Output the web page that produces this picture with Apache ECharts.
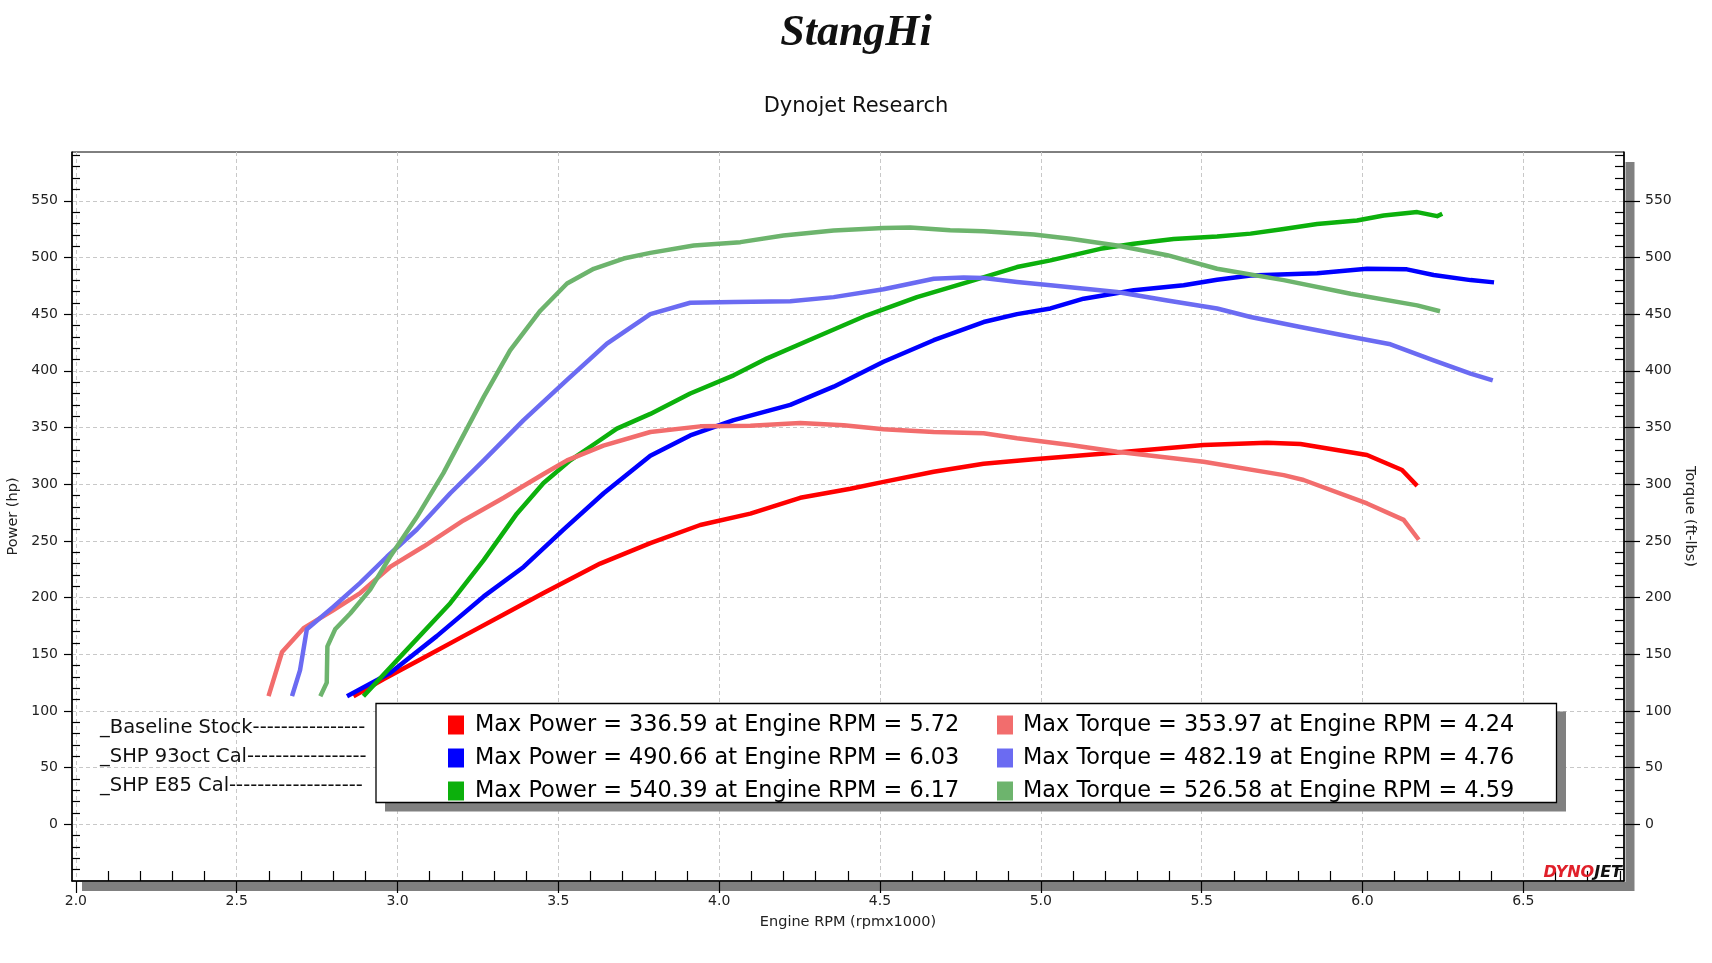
<!DOCTYPE html>
<html>
<head>
<meta charset="utf-8">
<title>Dynojet Research</title>
<script src="https://cdn.jsdelivr.net/npm/echarts@6/dist/echarts.min.js"></script>
<style>
  html, body { margin: 0; padding: 0; background: #fff; }
  #main { width: 1712px; height: 963px; }
</style>
</head>
<body>
<div id="main"></div>
<script>
// runs and the summary numbers printed in the box
var runNames = ['_Baseline Stock', '_SHP 93oct Cal', '_SHP E85 Cal'];
var runDashes = [16, 17, 19];
var maxPower = [336.59, 490.66, 540.39];
var maxPowerRpm = [5.72, 6.03, 6.17];
var maxTorque = [353.97, 482.19, 526.58];
var maxTorqueRpm = [4.24, 4.76, 4.59];

// axis ticks
var rpmTicks = [2.0, 2.5, 3.0, 3.5, 4.0, 4.5, 5.0, 5.5, 6.0, 6.5];
var powerTicks = [0, 50, 100, 150, 200, 250, 300, 350, 400, 450, 500, 550];

// [rpm x1000, hp]
var basePower = [[2.863,113],[2.956,128],[3.081,147],[3.205,166],[3.330,185],[3.454,204],[3.630,230],[3.786,248],[3.941,264],[4.097,274],[4.252,288],[4.408,296],[4.511,302],[4.667,311],[4.822,318],[4.978,322],[5.237,328],[5.506,334.5],[5.703,336.6],[5.807,335.4],[6.014,325.7],[6.123,312.5],[6.170,298.5]];
var shp93Power = [[2.843,113],[2.977,133.5],[3.122,166],[3.268,201],[3.392,227],[3.516,260],[3.641,292],[3.786,325],[3.910,343],[4.045,356.5],[4.221,370],[4.356,386],[4.511,408],[4.667,427],[4.822,443],[4.926,450],[5.030,455],[5.133,463.6],[5.289,471],[5.444,475.4],[5.548,480.4],[5.652,484],[5.859,486],[6.014,490],[6.138,489.5],[6.221,484.5],[6.336,480],[6.409,478]];
var e85Power = [[2.894,113],[3.019,151],[3.164,195],[3.268,233],[3.371,274],[3.454,301],[3.537,321],[3.620,337],[3.682,349],[3.786,362],[3.910,380],[4.045,396],[4.149,411],[4.304,430],[4.459,449],[4.615,465],[4.770,478],[4.926,491.5],[5.030,497.4],[5.185,507.6],[5.289,512],[5.413,516.3],[5.548,518.5],[5.652,521],[5.755,525],[5.859,529.5],[5.983,532.6],[6.066,537],[6.170,540],[6.232,536.4],[6.248,538.5]];
// [rpm x1000, ft-lbs]
var baseTorque = [[2.599,113],[2.641,152],[2.708,173],[2.801,189],[2.884,204],[2.977,227],[3.081,245],[3.205,268],[3.330,288],[3.454,309],[3.527,321],[3.640,334],[3.786,346],[3.941,351],[4.097,351.5],[4.252,354],[4.387,352],[4.511,348.5],[4.667,346],[4.822,345],[4.926,340.5],[5.092,334.5],[5.237,328.6],[5.506,319.8],[5.755,308],[5.817,303.7],[6.014,283],[6.128,268.5],[6.175,251]];
var shp93Torque = [[2.672,113],[2.697,136],[2.718,172],[2.801,192],[2.884,213],[2.967,236],[3.060,260],[3.164,292],[3.268,321],[3.392,356.5],[3.527,392],[3.651,424],[3.786,450],[3.910,460],[4.045,460.7],[4.221,461.3],[4.356,465],[4.511,472],[4.667,481.2],[4.760,482.2],[4.822,481.8],[4.926,478.3],[5.030,475.4],[5.237,469.5],[5.393,462],[5.548,455],[5.652,447.5],[5.807,438.6],[5.963,430],[6.087,423.4],[6.221,409.3],[6.336,397.6],[6.405,391.5]];
var e85Torque = [[2.760,113],[2.780,125],[2.782,157],[2.806,172],[2.853,186],[2.915,207],[2.977,236],[3.060,271],[3.143,310],[3.268,377],[3.350,418],[3.444,453],[3.527,477],[3.610,490],[3.703,499],[3.786,504],[3.921,510.6],[4.066,513.5],[4.200,519.4],[4.356,523.8],[4.511,526],[4.594,526.5],[4.718,524],[4.822,523.2],[4.978,520.2],[5.092,516.4],[5.237,510.6],[5.393,502],[5.548,490],[5.755,480],[5.963,468],[6.170,457.7],[6.241,452.5]];

var powerColors = ['#ff0000', '#0000ff', '#0cb00c'];
var torqueColors = ['#f26d6d', '#6b6bf2', '#6db46d'];

var FONT = '"DejaVu Sans", Tahoma, sans-serif';

// minor tick positions
var rpmMinor = [];
for (var i = 20; i <= 68; i++) { if (i % 5) rpmMinor.push(i / 10); }
var powerMinor = [];
for (var j = -40; j <= 590; j += 10) { if (j % 50) powerMinor.push(j); }

var powerNames = runNames.map(function (n) { return n + ' Power'; });
var torqueNames = runNames.map(function (n) { return n + ' Torque'; });

function legendText(name) {
  var k = powerNames.indexOf(name);
  if (k >= 0) return 'Max Power = ' + maxPower[k].toFixed(2) + ' at Engine RPM = ' + maxPowerRpm[k].toFixed(2);
  k = torqueNames.indexOf(name);
  return 'Max Torque = ' + maxTorque[k].toFixed(2) + ' at Engine RPM = ' + maxTorqueRpm[k].toFixed(2);
}

function lineSeries(name, data, color, yIdx) {
  return {
    name: name, type: 'line', data: data, yAxisIndex: yIdx, z: 6,
    showSymbol: false, symbol: 'none', color: color,
    lineStyle: { color: color, width: 4.5, join: 'round' },
    animation: false
  };
}

var dashes = function (n) { return new Array(n + 1).join('-'); };

var myChart = echarts.init(document.getElementById('main'));

var gridline = { show: true, lineStyle: { color: '#c8c8c8', width: 1, type: [4, 3] } };
var blackTick = { color: '#000', width: 1.2 };

var option = {
  backgroundColor: '#fff',
  animation: false,
  grid: {
    left: 72, top: 152, width: 1552, height: 729,
    containLabel: false, outerBoundsMode: 'none',
    show: true, borderColor: '#000', borderWidth: 1, backgroundColor: 'transparent'
  },
  xAxis: [
    {
      type: 'value', min: 1.988, max: 6.813, position: 'bottom', z: 5,
      name: 'Engine RPM (rpmx1000)', nameLocation: 'middle', nameGap: 34,
      nameTextStyle: { fontSize: 14.5, color: '#222', fontFamily: FONT },
      axisLine: { show: true, onZero: false, lineStyle: { color: '#000', width: 1.5 } },
      axisTick: { show: true, customValues: rpmTicks, inside: false, length: 12, lineStyle: blackTick },
      axisLabel: { customValues: rpmTicks, margin: 13, formatter: function (v) { return v.toFixed(1); }, fontSize: 14, color: '#222', fontFamily: FONT },
      splitLine: gridline
    },
    {
      type: 'value', min: 1.988, max: 6.813, position: 'bottom', z: 5,
      axisLine: { show: false, onZero: false },
      axisTick: { show: true, customValues: rpmMinor, inside: true, length: 10, lineStyle: blackTick },
      axisLabel: { show: false },
      splitLine: { show: false }
    }
  ],
  yAxis: [
    {
      type: 'value', min: -50, max: 593, interval: 50, position: 'left', z: 5,
      name: 'Power (hp)', nameLocation: 'middle', nameGap: 47, nameRotate: 90,
      nameTextStyle: { fontSize: 14.5, color: '#222', fontFamily: FONT },
      axisLine: { show: true, onZero: false, lineStyle: { color: '#000', width: 1.5 } },
      axisTick: { show: true, customValues: powerTicks, length: 8, lineStyle: blackTick },
      axisLabel: { customValues: powerTicks, margin: 14, fontSize: 14, color: '#222', fontFamily: FONT },
      splitLine: gridline
    },
    {
      type: 'value', min: -50, max: 593, interval: 50, position: 'right', z: 5,
      name: 'Torque (ft-lbs)', nameLocation: 'middle', nameGap: 50, nameRotate: -90,
      nameTextStyle: { fontSize: 14.5, color: '#222', fontFamily: FONT },
      axisLine: { show: true, onZero: false, lineStyle: { color: '#000', width: 1.5 } },
      axisTick: { show: true, customValues: powerTicks, length: 16, lineStyle: blackTick },
      axisLabel: { customValues: powerTicks, margin: 21, fontSize: 14, color: '#222', fontFamily: FONT },
      splitLine: { show: false }
    },
    {
      type: 'value', min: -50, max: 593, interval: 10, position: 'left', z: 5,
      axisLine: { show: false, onZero: false },
      axisTick: { show: true, customValues: powerMinor, inside: true, length: 8, lineStyle: blackTick },
      axisLabel: { show: false }, splitLine: { show: false }
    },
    {
      type: 'value', min: -50, max: 593, interval: 10, position: 'right', z: 5,
      axisLine: { show: false, onZero: false },
      axisTick: { show: true, customValues: powerMinor, inside: true, length: 9, lineStyle: blackTick },
      axisLabel: { show: false }, splitLine: { show: false }
    }
  ],
  legend: [
    {
      data: powerNames, orient: 'vertical', left: 443, top: 709, z: 8,
      icon: 'rect', itemWidth: 16, itemHeight: 19, itemGap: 11,
      formatter: legendText,
      textStyle: { fontSize: 22.4, color: '#000', fontFamily: FONT, padding: [0, 0, 0, 6] }
    },
    {
      data: torqueNames, orient: 'vertical', left: 992, top: 709, z: 8,
      icon: 'rect', itemWidth: 16, itemHeight: 19, itemGap: 11,
      formatter: legendText,
      textStyle: { fontSize: 22.4, color: '#000', fontFamily: FONT, padding: [0, 0, 0, 5] }
    }
  ],
  graphic: [
    // logo + title
    { type: 'text', left: 'center', top: 12, z: 10,
      style: { text: 'StangHi', font: 'bold italic 44px "Liberation Serif", serif', fill: '#111' } },
    { type: 'text', x: 856, y: 107, z: 10,
      style: { text: 'Dynojet Research', fontSize: 21, fontFamily: FONT, fill: '#111', textAlign: 'center', textVerticalAlign: 'middle' } },
    // plot drop shadow
    { type: 'rect', z: 1, shape: { x: 1625.5, y: 162, width: 9, height: 729 }, style: { fill: '#808080' } },
    { type: 'rect', z: 1, shape: { x: 82, y: 882, width: 1552, height: 9 }, style: { fill: '#808080' } },
    // summary box
    { type: 'rect', z: 7, shape: { x: 385, y: 711.5, width: 1181, height: 100 }, style: { fill: '#808080' } },
    { type: 'rect', z: 7, shape: { x: 376, y: 703.5, width: 1180.5, height: 99 }, style: { fill: '#fff', stroke: '#000', lineWidth: 1.3 } },
    // run key
    { type: 'text', x: 100, y: 727.5, z: 10, style: { text: runNames[0] + dashes(runDashes[0]), fontSize: 19.5, fontFamily: FONT, fill: '#111', textVerticalAlign: 'middle' } },
    { type: 'text', x: 100, y: 756.7, z: 10, style: { text: runNames[1] + dashes(runDashes[1]), fontSize: 19.5, fontFamily: FONT, fill: '#111', textVerticalAlign: 'middle' } },
    { type: 'text', x: 100, y: 785.5, z: 10, style: { text: runNames[2] + dashes(runDashes[2]), fontSize: 19.5, fontFamily: FONT, fill: '#111', textVerticalAlign: 'middle' } },
    // dynojet mark
    { type: 'text', x: 1622, y: 881, z: 10,
      style: {
        text: '{a|DYNO}{b|JET}', textAlign: 'right', textVerticalAlign: 'bottom',
        rich: {
          a: { font: 'bold italic 16px "DejaVu Sans"', fill: '#e0202a' },
          b: { font: 'bold italic 16px "DejaVu Sans"', fill: '#111' }
        }
      } }
  ],
  series: [
    lineSeries(powerNames[0], basePower, powerColors[0], 0),
    lineSeries(powerNames[1], shp93Power, powerColors[1], 0),
    lineSeries(powerNames[2], e85Power, powerColors[2], 0),
    lineSeries(torqueNames[0], baseTorque, torqueColors[0], 1),
    lineSeries(torqueNames[1], shp93Torque, torqueColors[1], 1),
    lineSeries(torqueNames[2], e85Torque, torqueColors[2], 1)
  ]
};

myChart.setOption(option);
</script>
</body>
</html>
